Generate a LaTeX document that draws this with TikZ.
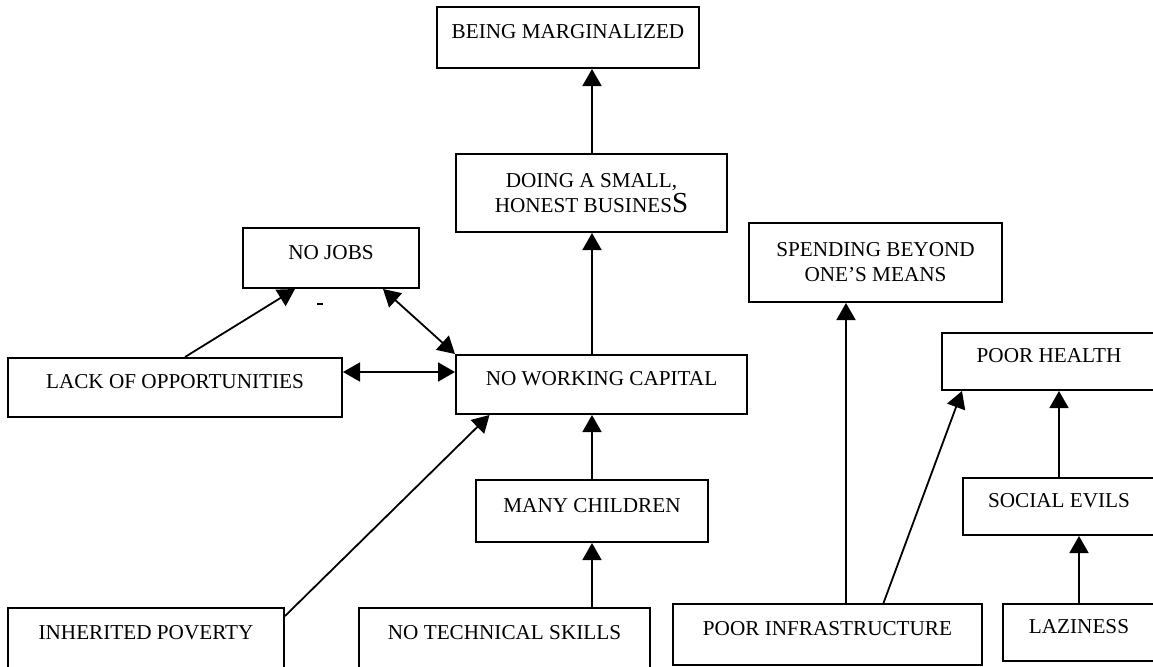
\documentclass[tikz,border=0pt]{standalone}
\usepackage{fontspec}
\setmainfont{Liberation Serif}
\usetikzlibrary{arrows.meta}

\begin{document}
\begin{tikzpicture}[%
  x=0.5pt, y=-0.5pt,
  >={Triangle[length=8.5pt,width=9.5pt]},
  line width=0.9pt,
  block/.style={rectangle, draw, line width=1pt, align=center, inner sep=0pt},
  oneline/.style={block, text depth=6pt},
  boxsize/.style 2 args={minimum width=#1*0.5pt, minimum height=#2*0.5pt},]
  \useasboundingbox (0,0) rectangle (1153,666);
  {\fontsize{10.6}{12.5}\selectfont
    \node[oneline, boxsize={262}{61}] (marg) at (568,37.5) {BEING MARGINALIZED};
    \node[block, boxsize={271}{78}] (business) at (591.5,193) {DOING A SMALL,\\ HONEST BUSINES{\fontsize{14.5}{12.5}\selectfont S}};
    \node[oneline, boxsize={176}{60}] (nojobs) at (331,258) {NO JOBS};
    \node[oneline, boxsize={334}{59}] (lack) at (175,387.5) {LACK OF OPPORTUNITIES};
    \node[oneline, boxsize={291}{59}] (capital) at (601.5,384.5) {NO WORKING CAPITAL};
    \node[oneline, boxsize={232}{62}] (children) at (592,511) {MANY CHILDREN};
    \node[oneline, boxsize={291}{60}] (skills) at (504.5,638) {NO TECHNICAL SKILLS};
    \node[oneline, boxsize={276}{60}] (poverty) at (146,638) {INHERITED POVERTY};
    \node[block, boxsize={253}{79}] (spending) at (875.5,262.5) {SPENDING BEYOND\\ ONE’S MEANS};
    \node[oneline, boxsize={214}{57}] (health) at (1049,361.5) {POOR HEALTH};
    \node[oneline, boxsize={192}{57}] (social) at (1059,506.5) {SOCIAL EVILS};
    \node[oneline, boxsize={309}{61}] (infra) at (827.5,634.5) {POOR INFRASTRUCTURE};
    \node[oneline, boxsize={152}{57}] (lazy) at (1079,632.5) {LAZINESS};
  }
  \draw[->] (business.north -| children) -- (marg.south -| children);
  \draw[->] (capital.north -| children) -- (business.south -| children);
  \draw[->] (children) -- (children |- capital.south);
  \draw[->] (skills.north -| children) -- (children);
  \draw[->] ([xshift=5pt]lack.north) -- ([xshift=-18pt]nojobs.south);
  \fill (317,303) rectangle (323,305);
  \draw[<->] ([xshift=26pt]nojobs.south) -- (capital.north west);
  \draw[<->] ([yshift=7.75pt]lack.east) -- ([yshift=7.75pt]lack.east -| capital.west);
  \draw[->] ([yshift=-4.5pt]poverty.north east) -- ([xshift=-56pt]capital.south);
  \draw[->] ([xshift=9.25pt]infra.north) -- ([xshift=9.25pt]infra.north |- spending.south);
  \draw[->] ([xshift=28pt]infra.north) -- ([xshift=-43.5pt]health.south);
  \draw[->] (social) -- (social |- health.south);
  \draw[->] (lazy) -- (lazy |- social.south);
\end{tikzpicture}
\end{document}
